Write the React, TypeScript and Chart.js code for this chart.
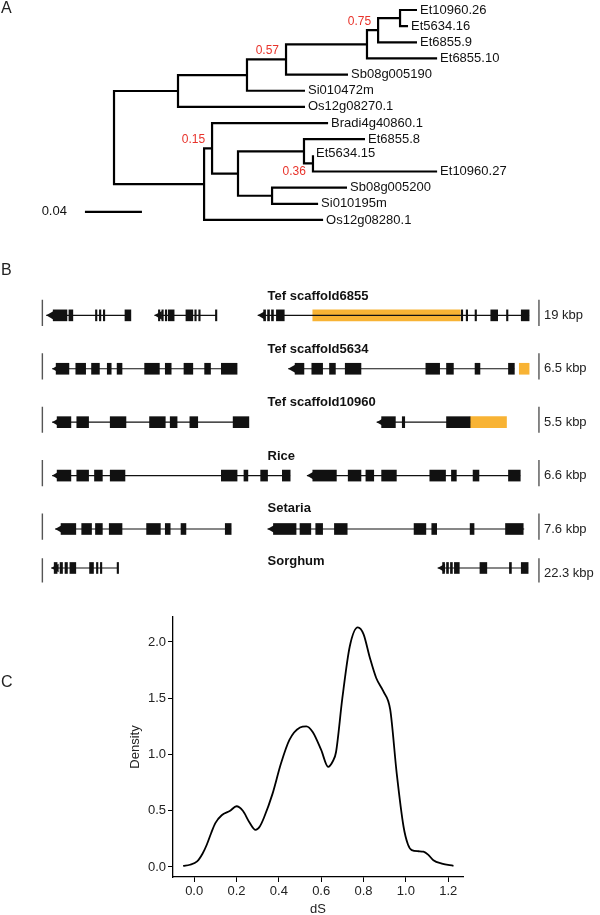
import React, { useEffect, useRef } from "react";
import { Chart, registerables } from "chart.js";
Chart.register(...registerables);

const FONT = "'Liberation Sans', Arial, Helvetica, sans-serif";

// ---------------- Panel A: gene tree ----------------
const tipNames = ["Et10960.26", "Et5634.16", "Et6855.9", "Et6855.10", "Sb08g005190", "Si010472m", "Os12g08270.1", "Bradi4g40860.1", "Et6855.8", "Et5634.15", "Et10960.27", "Sb08g005200", "Si010195m", "Os12g08280.1"];
const tipDepths = [0.2126, 0.2063, 0.2126, 0.2267, 0.1642, 0.134, 0.134, 0.1502, 0.1761, 0.1396, 0.2267, 0.1635, 0.1432, 0.1467];
const nodeNames = ["n400", "n378", "n367", "n286", "n247", "n178", "n313", "n304", "n272", "n238", "n212", "n204", "root"];
const nodeDepths = [0.2007, 0.1853, 0.1775, 0.1207, 0.0933, 0.0449, 0.1396, 0.1333, 0.1109, 0.087, 0.0688, 0.0632, 0];
const nodeKids = [
  ["Et10960.26", "Et5634.16"], ["n400", "Et6855.9"], ["n378", "Et6855.10"], ["n367", "Sb08g005190"],
  ["n286", "Si010472m"], ["n247", "Os12g08270.1"], ["Et5634.15", "Et10960.27"], ["Et6855.8", "n313"],
  ["Sb08g005200", "Si010195m"], ["n304", "n272"], ["Bradi4g40860.1", "n238"], ["n212", "Os12g08280.1"], ["n178", "n204"],
];
const supportNodes = ["n286", "n378", "n212", "n313"];
const supportLabels = ["0.57", "0.75", "0.15", "0.36"];
const supportBelow = [false, false, false, true];
const scaleBarStart = -0.0204;
const scaleBarLength = 0.04;
const scaleBarRow = 12.5;
const scaleBarLabel = "0.04";

// ---------------- Panel B: gene structures ----------------
const rowNames = ["Tef scaffold6855", "Tef scaffold5634", "Tef scaffold10960", "Rice", "Setaria", "Sorghum"];
const rowSizes = ["19 kbp", "6.5 kbp", "5.5 kbp", "6.6 kbp", "7.6 kbp", "22.3 kbp"];
const rowLevel = [0, 1, 2, 3, 4, 4.73];
const titleLevel = [-0.36, 0.64, 1.63, 2.64, 3.62, 4.6];
const sizeLevel = [0, 1, 2, 3, 4, 4.84];
const barTop = [-0.29, 0.71, 1.71, 2.71, 3.71, 4.55];
const barBottom = [0.2, 1.2, 2.2, 3.2, 4.2, 5.0];
const leftBarX = 38;
const rightBarX = 543;
const geneRow = [0, 0, 0, 1, 1, 2, 2, 3, 3, 4, 4, 5, 5];
const geneStart = [42, 152, 257, 48, 288, 48, 378, 48, 307, 51, 267, 47, 440];
const geneEnd = [128, 215, 533, 236, 518, 248, 473, 290, 524, 230, 528, 115, 532];
const geneExons = [
  [[49, 63], [65, 69], [92, 93.5], [96, 97.5], [100, 101.5], [122, 128]],
  [[156, 157.5], [159.5, 161], [163, 164.5], [166, 172], [184, 191], [193, 194.5], [197, 198.5], [214, 215.5]],
  [[263, 265], [267, 269], [271, 273], [276, 284], [464, 465.5], [469, 470.5], [478, 479.5], [494, 501], [510, 511.5], [525, 533]],
  [[52, 65], [72, 82], [88, 96], [104, 108], [114, 119], [142, 157], [163, 169], [182, 191], [203, 209], [220, 236]],
  [[295, 304], [312, 323], [330, 336], [346, 362], [428, 442], [449, 456], [478, 483], [512, 518]],
  [[53, 67], [73, 85], [107, 123], [147, 163], [168, 175], [188, 196], [232, 248]],
  [[383, 397], [404, 406.5], [449, 473]],
  [[53, 67], [73, 85], [91, 99], [107, 122], [220, 236], [243, 247], [260, 267], [282, 290]],
  [[313, 337], [349, 362], [367, 375], [383, 398], [432, 448], [454, 459], [476, 482], [512, 524]],
  [[57, 72], [78, 88], [92, 99], [106, 119], [144, 158], [163, 168], [179, 184], [224, 230]],
  [[273, 296], [300, 311], [316, 323], [335, 348], [416, 428], [434, 439], [473, 477], [509, 527]],
  [[50, 53], [56, 58.5], [61, 63.5], [66, 72], [86, 90], [93, 94.5], [97, 98.5], [114, 115.5]],
  [[445, 447], [449, 451], [453, 455], [457, 462], [483, 490], [513, 515], [525, 532]],
];
const novelRow = [0, 1, 2];
const novelStart = [313, 523, 473];
const novelEnd = [463, 533, 510];

// ---------------- Panel C: dS density ----------------
const dsValues = [-0.052, -0.02, 0.014, 0.04, 0.06, 0.08, 0.1, 0.13, 0.17, 0.2, 0.23, 0.26, 0.29, 0.31, 0.33, 0.37, 0.41, 0.45, 0.5, 0.53, 0.56, 0.6, 0.633, 0.655, 0.67, 0.7, 0.735, 0.773, 0.8, 0.83, 0.86, 0.894, 0.926, 0.957, 0.989, 1.01, 1.028, 1.06, 1.083, 1.105, 1.13, 1.17, 1.225];
const densityValues = [0.01, 0.02, 0.05, 0.12, 0.2, 0.3, 0.39, 0.46, 0.5, 0.54, 0.5, 0.4, 0.33, 0.36, 0.44, 0.65, 0.92, 1.13, 1.24, 1.25, 1.2, 1.04, 0.89, 0.94, 1.02, 1.5, 1.96, 2.13, 2.07, 1.86, 1.68, 1.56, 1.4, 0.83, 0.36, 0.2, 0.15, 0.14, 0.136, 0.11, 0.06, 0.03, 0.01];
const dsTicks = [0, 0.2, 0.4, 0.6, 0.8, 1.0, 1.2];
const densityTicks = [0, 0.5, 1.0, 1.5, 2.0];

function layoutTree() {
  const pos: Record<string, { x: number; y: number }> = {};
  tipNames.forEach((n, i) => (pos[n] = { x: tipDepths[i], y: i }));
  nodeNames.forEach((n, i) => {
    const [a, b] = nodeKids[i];
    pos[n] = { x: nodeDepths[i], y: (pos[a].y + pos[b].y) / 2 };
  });
  return pos;
}

function treeConfig(): any {
  const pos = layoutTree();
  const datasets: any[] = nodeNames.map((n, i) => {
    const [a, b] = nodeKids[i];
    const p = pos[n], pa = pos[a], pb = pos[b];
    return {
      data: [{ x: pa.x, y: pa.y }, { x: p.x, y: pa.y }, { x: p.x, y: pb.y }, { x: pb.x, y: pb.y }],
      showLine: true, borderColor: "#000", borderWidth: 2.2, pointRadius: 0,
      borderJoinStyle: "miter", borderCapStyle: "butt", tension: 0,
    };
  });
  datasets.push({
    data: [{ x: scaleBarStart, y: scaleBarRow }, { x: scaleBarStart + scaleBarLength, y: scaleBarRow }],
    showLine: true, borderColor: "#000", borderWidth: 2.2, pointRadius: 0,
  });
  const labels = {
    id: "treeLabels",
    afterDatasetsDraw(chart: any) {
      const { ctx, scales } = chart;
      const X = (v: number) => scales.x.getPixelForValue(v);
      const Y = (v: number) => scales.y.getPixelForValue(v);
      ctx.save();
      ctx.textBaseline = "middle";
      ctx.fillStyle = "#111";
      ctx.font = `13px ${FONT}`;
      ctx.textAlign = "left";
      tipNames.forEach((n, i) => ctx.fillText(n, X(tipDepths[i]) + 3, Y(i) - (n === "Et5634.15" ? 2 : 0)));
      ctx.textAlign = "right";
      ctx.fillText(scaleBarLabel, X(scaleBarStart) - 18, Y(scaleBarRow));
      ctx.fillStyle = "#e8332b";
      ctx.font = `12px ${FONT}`;
      supportNodes.forEach((n, i) => {
        const p = pos[n];
        ctx.fillText(supportLabels[i], X(p.x) - 7, Y(p.y) + (supportBelow[i] ? 8 : -9));
      });
      ctx.restore();
    },
  };
  return {
    type: "scatter",
    data: { datasets },
    options: {
      responsive: false, animation: false, events: [],
      layout: { padding: 0 },
      plugins: { legend: { display: false }, tooltip: { enabled: false } },
      scales: {
        x: { type: "linear", display: false, min: -0.08, max: 0.341 },
        y: { type: "linear", display: false, min: -0.619, max: 14.24, reverse: true },
      },
    },
    plugins: [labels],
  };
}

function geneConfig(): any {
  const exonData: any[] = [];
  geneExons.forEach((ex, g) => ex.forEach(([s, e]) => exonData.push({ x: [s, e], y: rowLevel[geneRow[g]] })));
  const datasets: any[] = [];
  datasets.push({
    type: "bar", data: exonData, backgroundColor: "#111", borderWidth: 0,
    barThickness: 11, grouped: false, order: 0,
  });
  datasets.push({
    type: "bar",
    data: novelRow.map((r, i) => ({ x: [novelStart[i], novelEnd[i]], y: rowLevel[r] })),
    backgroundColor: "#f8b334", borderWidth: 0, barThickness: 11, grouped: false, order: 3,
  });
  datasets.push({
    type: "scatter",
    data: geneStart.map((s, g) => ({ x: s + 5, y: rowLevel[geneRow[g]] })),
    pointStyle: "triangle", rotation: 270, pointRadius: 5, backgroundColor: "#111", borderWidth: 0, order: 0,
  });
  geneStart.forEach((s, g) => {
    datasets.push({
      type: "scatter",
      data: [{ x: s, y: rowLevel[geneRow[g]] }, { x: geneEnd[g], y: rowLevel[geneRow[g]] }],
      showLine: true, borderColor: "#111", borderWidth: 1.2, pointRadius: 0, order: 1,
    });
  });
  rowLevel.forEach((_, r) => {
    [leftBarX, rightBarX].forEach((bx) => {
      datasets.push({
        type: "scatter",
        data: [{ x: bx, y: barTop[r] }, { x: bx, y: barBottom[r] }],
        showLine: true, borderColor: "#555", borderWidth: 1.4, pointRadius: 0, order: 1,
      });
    });
  });
  const labels = {
    id: "geneLabels",
    afterDatasetsDraw(chart: any) {
      const { ctx, scales } = chart;
      const X = (v: number) => scales.x.getPixelForValue(v);
      const Y = (v: number) => scales.y.getPixelForValue(v);
      ctx.save();
      ctx.textBaseline = "middle";
      ctx.textAlign = "left";
      ctx.fillStyle = "#111";
      ctx.font = `bold 13px ${FONT}`;
      rowNames.forEach((n, r) => ctx.fillText(n, X(267), Y(titleLevel[r])));
      ctx.font = `13px ${FONT}`;
      ctx.fillStyle = "#222";
      rowSizes.forEach((n, r) => ctx.fillText(n, X(rightBarX) + 5, Y(sizeLevel[r])));
      ctx.restore();
    },
  };
  return {
    type: "bar",
    data: { datasets },
    options: {
      indexAxis: "y",
      responsive: false, animation: false, events: [],
      layout: { padding: 0 },
      plugins: { legend: { display: false }, tooltip: { enabled: false } },
      scales: {
        x: { type: "linear", display: false, min: 0, max: 600, offset: false },
        y: { type: "linear", display: false, min: -1.0364, max: 5.236, reverse: true, offset: false },
      },
    },
    plugins: [labels],
  };
}

function densityConfig(): any {
  const tickFont = { family: FONT, size: 13 };
  return {
    type: "scatter",
    data: {
      datasets: [{
        data: dsValues.map((x, i) => ({ x, y: densityValues[i] })),
        showLine: true, borderColor: "#000", borderWidth: 1.8, pointRadius: 0,
        cubicInterpolationMode: "monotone",
      }],
    },
    options: {
      responsive: false, animation: false, events: [],
      layout: { padding: { left: 128, right: 137, top: 17, bottom: 0 } },
      plugins: { legend: { display: false }, tooltip: { enabled: false } },
      scales: {
        x: {
          type: "linear", min: -0.1, max: 1.27,
          afterBuildTicks: (a: any) => { a.ticks = dsTicks.map((v) => ({ value: v })); },
          afterFit: (s: any) => { s.height = 38; },
          border: { display: true, color: "#000", width: 1.3 },
          grid: { drawOnChartArea: false, drawTicks: true, tickLength: 5, tickColor: "#000", tickWidth: 1 },
          ticks: { color: "#222", font: tickFont, padding: 2, maxRotation: 0, autoSkip: false, callback: (v: any) => Number(v).toFixed(1) },
          title: { display: true, text: "dS", color: "#222", font: tickFont, padding: { top: 0, bottom: -2 } },
        },
        y: {
          type: "linear", min: -0.089, max: 2.222,
          afterBuildTicks: (a: any) => { a.ticks = densityTicks.map((v) => ({ value: v })); },
          afterFit: (s: any) => { s.width = 45; },
          border: { display: true, color: "#000", width: 1.3 },
          grid: { drawOnChartArea: false, drawTicks: true, tickLength: 5, tickColor: "#000", tickWidth: 1 },
          ticks: { color: "#222", font: tickFont, padding: 2, autoSkip: false, callback: (v: any) => Number(v).toFixed(1) },
          title: { display: true, text: "Density", color: "#222", font: tickFont, padding: { top: 0, bottom: 0 } },
        },
      },
    },
  };
}

const letterStyle = (top: number): React.CSSProperties => ({
  position: "absolute", left: 1, top, fontSize: 16, lineHeight: "16px", color: "#222", fontFamily: FONT,
});

export default function App() {
  const refA = useRef<HTMLCanvasElement>(null);
  const refB = useRef<HTMLCanvasElement>(null);
  const refC = useRef<HTMLCanvasElement>(null);
  useEffect(() => {
    const charts = [
      new Chart(refA.current!, treeConfig()),
      new Chart(refB.current!, geneConfig()),
      new Chart(refC.current!, densityConfig()),
    ];
    return () => charts.forEach((c) => c.destroy());
  }, []);
  return (
    <div style={{ position: "absolute", left: 0, top: 0, width: 600, height: 915, background: "#fff", overflow: "hidden" }}>
      <canvas ref={refA} width={600} height={240} style={{ position: "absolute", left: 0, top: 0, width: 600, height: 240 }} />
      <canvas ref={refB} width={600} height={345} style={{ position: "absolute", left: 0, top: 255, width: 600, height: 345 }} />
      <canvas ref={refC} width={600} height={315} style={{ position: "absolute", left: 0, top: 600, width: 600, height: 315 }} />
      <div style={letterStyle(0)}>A</div>
      <div style={letterStyle(262)}>B</div>
      <div style={letterStyle(674)}>C</div>
    </div>
  );
}
